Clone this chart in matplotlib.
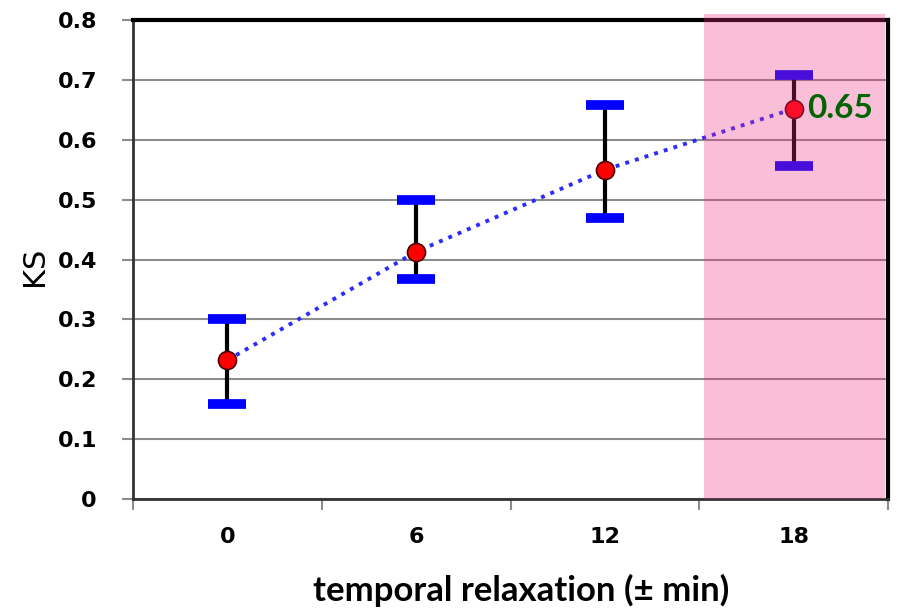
import matplotlib.pyplot as plt
from matplotlib.patches import Rectangle

# data
categories = ['0', '6', '12', '18']
ks_mean = [0.232, 0.413, 0.550, 0.652]
ks_low = [0.158, 0.368, 0.470, 0.557]
ks_high = [0.300, 0.500, 0.658, 0.708]
y_ticks = [0, 0.1, 0.2, 0.3, 0.4, 0.5, 0.6, 0.7, 0.8]

x = list(range(len(categories)))

fig = plt.figure(figsize=(8.97, 6.11), dpi=100)
ax = fig.add_axes([0.1483, 0.1833, 0.8417, 0.7837])

ax.set_xlim(-0.5, len(categories) - 0.5)
ax.set_ylim(0, 0.8)

# grid
ax.set_yticks(y_ticks)
ax.set_yticklabels(['0' if v == 0 else f'{v:.1f}' for v in y_ticks])
ax.yaxis.grid(True, color='#8c8c8c', lw=1.5)
ax.set_axisbelow(True)

# error bars: black stems, blue caps
for xi, lo, hi in zip(x, ks_low, ks_high):
    ax.plot([xi, xi], [lo, hi], color='black', lw=3, zorder=3)
ax.plot(x, ks_low, ls='none', marker='_', ms=27, mew=7, color='#0000ff', zorder=4)
ax.plot(x, ks_high, ls='none', marker='_', ms=27, mew=7, color='#0000ff', zorder=4)

# mean line
ax.plot(x, ks_mean, ls=(0, (1, 1.6)), lw=2.8, color='#2b2bff', zorder=5)
ax.plot(x, ks_mean, ls='none', marker='o', ms=13, mfc='#ff0000', mec='#4a0000',
        mew=1.2, zorder=6)

ax.annotate(f'{ks_mean[-1]:.2f}', (x[-1], ks_mean[-1]), xytext=(10, 0),
            textcoords='offset points', va='center', ha='left',
            fontsize=24, fontweight='bold', color='#006400',
            family='Lato', zorder=30)

# x ticks at category boundaries, labels at centres
ax.set_xticks([i - 0.5 for i in range(len(categories) + 1)])
ax.set_xticklabels([])
ax.set_xticks(x, minor=True)
ax.set_xticklabels(categories, minor=True)
ax.tick_params(axis='x', which='major', direction='out', length=8, width=1.5, color='#8c8c8c')
ax.tick_params(axis='x', which='minor', length=0, pad=20)
ax.tick_params(axis='y', direction='out', length=8, width=1.5, color='#8c8c8c', pad=18)

for lab in ax.get_xticklabels(minor=True) + ax.get_yticklabels():
    lab.set_fontweight('bold')
    lab.set_fontsize(16)
    lab.set_family('DejaVu Sans')

ax.spines['left'].set_color('#333333')
ax.spines['left'].set_linewidth(2)
ax.spines['bottom'].set_color('#333333')
ax.spines['bottom'].set_linewidth(2)
ax.spines['top'].set_color('black')
ax.spines['top'].set_linewidth(3)
ax.spines['right'].set_color('black')
ax.spines['right'].set_linewidth(3)

ax.set_ylabel('KS', fontsize=22, family='DejaVu Sans', va='center')
ax.yaxis.set_label_coords(-0.131, 0.486)
ax.set_xlabel('temporal relaxation (± min)', fontsize=25, fontweight='bold',
              family='Lato', va='center')
ax.xaxis.set_label_coords(0.514, -0.19)

# highlighted last category (semi-transparent overlay on top)
band = Rectangle((2.525, 0), 0.96, 0.81, facecolor=(238 / 255, 45 / 255, 132 / 255),
                 alpha=0.3, edgecolor='none', zorder=20, clip_on=False)
ax.add_patch(band)

fig.savefig('out.png', dpi=100)
plt.close(fig)
